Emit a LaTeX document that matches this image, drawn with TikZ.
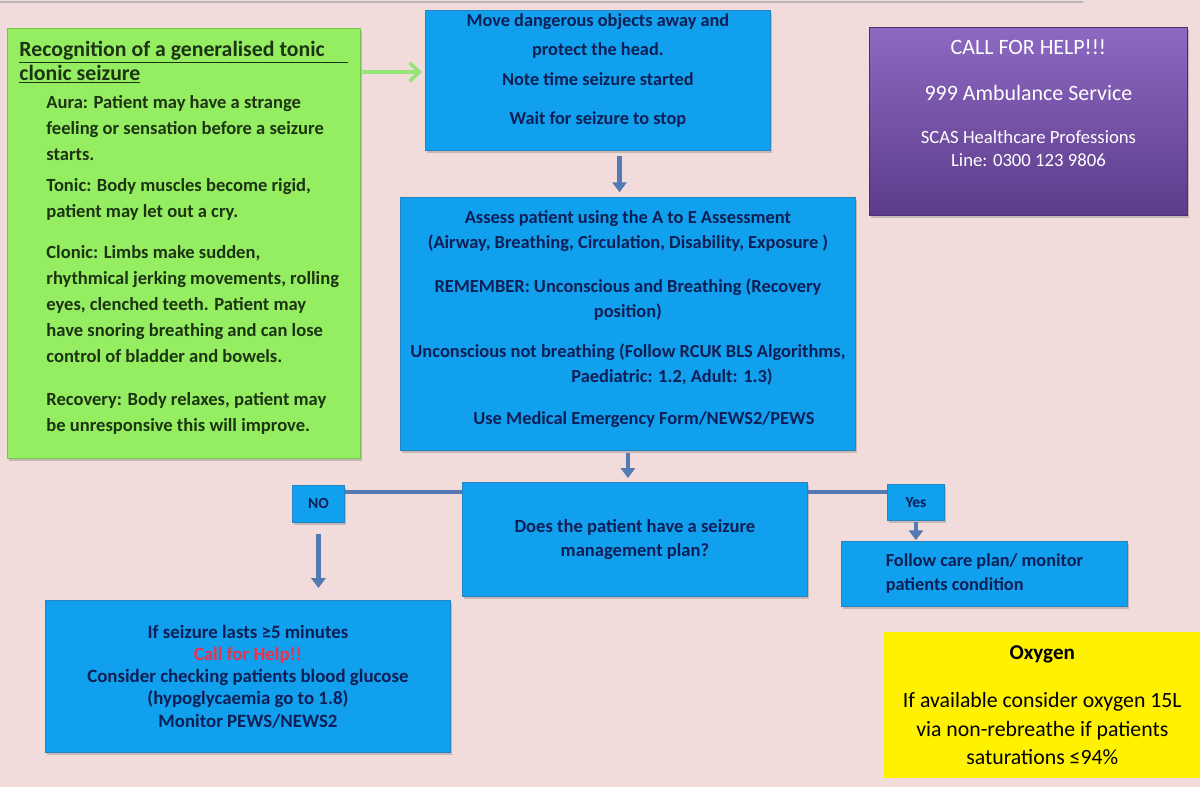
\documentclass[tikz,border=0pt]{standalone}
\usepackage{fontspec}
\setmainfont{Carlito}
\usetikzlibrary{arrows.meta,shadows}

\definecolor{bgpink}{HTML}{F2DCDB}
\definecolor{boxblue}{HTML}{10A0EE}
\definecolor{boxedge}{HTML}{2385C4}
\definecolor{boxtext}{HTML}{0E1F55}
\definecolor{flowblue}{HTML}{5579B3}
\definecolor{recoggreen}{HTML}{95EE62}
\definecolor{recogedge}{HTML}{78C24E}
\definecolor{recogtext}{HTML}{1C3412}
\definecolor{arrowgreen}{HTML}{96E37A}
\definecolor{helptop}{HTML}{8D69C2}
\definecolor{helpbot}{HTML}{5C3B8A}
\definecolor{helpedge}{HTML}{4A2E70}
\definecolor{helpred}{HTML}{F0304A}

\newcommand\seizindent{\hspace*{0.675cm}}

\begin{document}
\begin{tikzpicture}[
	box/.style={anchor=north west, draw=boxedge, fill=boxblue, line width=0.6pt, inner sep=0pt, align=center, text=boxtext, drop shadow={shadow xshift=1pt, shadow yshift=-2pt, opacity=0.4}},
	tag/.style={box, font=\fontsize{11}{13}\selectfont\bfseries},
	recogbox/.style={anchor=north west, draw=recogedge, fill=recoggreen, line width=0.6pt, inner sep=0pt, align=left, text=recogtext, font=\fontsize{13.2}{18.5}\selectfont\bfseries, drop shadow={shadow xshift=1pt, shadow yshift=-2pt, opacity=0.4}},
	helpbox/.style={anchor=north west, draw=helpedge, top color=helptop, bottom color=helpbot, line width=0.6pt, inner sep=0pt, align=center, text=white, font=\fontsize{13.3}{16.4}\selectfont, drop shadow={shadow xshift=1pt, shadow yshift=-2pt, opacity=0.4}},
	oxybox/.style={anchor=north west, fill=yellow, inner sep=0pt, align=center, text=black, font=\fontsize{15.5}{20.3}\selectfont},
	flow/.style={draw=flowblue, line width=3pt, -{Triangle[length=7pt,width=10pt]}},
	link/.style={draw=flowblue, line width=3.5pt},
	grnarrow/.style={draw=arrowgreen, line width=2.5pt, -{Straight Barb[length=7pt,width=13pt]}}
	]
	\useasboundingbox (0,0) rectangle (30,-19.675);
	\fill[bgpink] (0,0) rectangle (30,-19.675);
	\draw[gray!55, line width=1.2pt] (0,-0.05) -- (27.08,-0.05);
	
	\node[recogbox, minimum width=8.825cm, minimum height=10.75cm] (recog) at (0.175,-0.7) {{\fontsize{15.5}{18.5}\selectfont\underline{\makebox[8.225cm][l]{Recognition of a generalised tonic}}}\\[-1.4pt]
		{\fontsize{15.5}{18.5}\selectfont\underline{clonic seizure}}\\[1.4pt]
		\seizindent Aura: Patient may have a strange\\
		\seizindent feeling or sensation before a seizure\\
		\seizindent starts.\\[3.5pt]
		\seizindent Tonic: Body muscles become rigid,\\
		\seizindent patient may let out a cry.\\[10.7pt]
		\seizindent Clonic: Limbs make sudden,\\
		\seizindent rhythmical jerking movements, rolling\\
		\seizindent eyes, clenched teeth. Patient may\\
		\seizindent have snoring breathing and can lose\\
		\seizindent control of bladder and bowels.\\[12.1pt]
		\seizindent Recovery: Body relaxes, patient may\\
		\seizindent be unresponsive this will improve.\\[-8.4pt]\mbox{}};
	
	\node[box, minimum width=8.625cm, minimum height=3.5cm, font=\fontsize{13}{20.6}\selectfont\bfseries] (move) at (10.625,-0.25) {Move dangerous objects away and\\protect the head.\\[0.7pt]Note time seizure started\\[7.1pt]Wait for seizure to stop\\[-4.3pt]\mbox{}};
	
	\node[box, minimum width=11.375cm, minimum height=6.325cm, font=\fontsize{13.1}{17.8}\selectfont\bfseries] (assess) at (10,-4.925) {Assess patient using the A to E Assessment\\
		(Airway, Breathing, Circulation, Disability, Exposure )\\[13.5pt]
		REMEMBER: Unconscious and Breathing (Recovery\\
		position)\\[10.6pt]
		Unconscious not breathing (Follow RCUK BLS Algorithms,\\
		\hspace*{2.2cm}Paediatric: 1.2, Adult: 1.3)\\[12.1pt]
		\hspace*{0.8cm}Use Medical Emergency Form/NEWS2/PEWS\\[-9pt]\mbox{}};
	
	\node[box, minimum width=8.625cm, minimum height=2.85cm, font=\fontsize{13.2}{17.1}\selectfont\bfseries] (plan) at (11.55,-12.05) {Does the patient have a seizure\\management plan?};
	
	\node[tag, minimum width=1.3cm, minimum height=0.925cm] (no) at (7.3,-12.125) {NO};
	\node[tag, minimum width=1.425cm, minimum height=0.9cm] (yes) at (22.175,-12.1) {Yes};
	
	\node[box, minimum width=10.125cm, minimum height=3.8cm, font=\fontsize{13.4}{15.8}\selectfont\bfseries] (ifseiz) at (1.125,-15) {If seizure lasts ≥5 minutes\\\textcolor{helpred}{Call for Help!!}\\Consider checking patients blood glucose\\(hypoglycaemia go to 1.8)\\Monitor PEWS/NEWS2};
	
	\node[box, align=left, minimum width=7.15cm, minimum height=1.625cm, font=\fontsize{13}{17.1}\selectfont\bfseries] (care) at (21.025,-13.525) {Follow care plan/ monitor\\patients condition};
	
	\node[helpbox, minimum width=7.95cm, minimum height=4.7cm] (help) at (21.725,-0.675) {{\fontsize{15.6}{18}\selectfont CALL FOR HELP!!!}\\[16.3pt]
		{\fontsize{15.6}{18}\selectfont 999 Ambulance Service}\\[14.2pt]
		SCAS Healthcare Professions\\
		Line: 0300 123 9806\\[10pt]\mbox{}};
	
	\node[oxybox, minimum width=7.9cm, minimum height=3.65cm] (oxy) at (22.1,-15.8) {{\bfseries\fontsize{15}{20.3}\selectfont Oxygen}\\[13.8pt]If available consider oxygen 15L\\via non-rebreathe if patients\\saturations ≤94\%};
	
	\draw[grnarrow, shorten >=0.075cm] ([yshift=-1.1cm]recog.north east) -- ([yshift=-1.1cm]recog.north east -| move.west);
	\draw[flow, shorten <=0.12cm, shorten >=0.12cm] ([xshift=0.54cm]move.south) -- ([xshift=0.54cm]move.south |- assess.north);
	\draw[flow, shorten <=0.05cm, shorten >=0.1cm] (assess.south) -- (assess.south |- plan.north);
	\draw[link] ([yshift=-0.25cm]plan.north west) -- ([yshift=-0.25cm]plan.north west -| no.east);
	\draw[link] ([yshift=-0.25cm]plan.north east) -- ([yshift=-0.25cm]plan.north east -| yes.west);
	\draw[flow, shorten <=0.28cm, shorten >=0.3cm] (no.south) -- (no.south |- ifseiz.north);
	\draw[flow, shorten <=0.02cm, shorten >=0.02cm] (yes.south) -- (yes.south |- care.north);
\end{tikzpicture}
\end{document}
